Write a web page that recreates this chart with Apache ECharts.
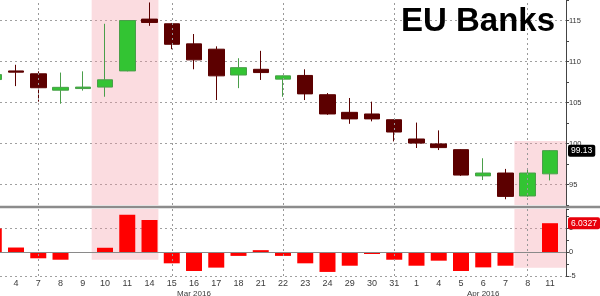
<!DOCTYPE html>
<html>
<head>
<meta charset="utf-8">
<script src="https://cdn.jsdelivr.net/npm/echarts@6/dist/echarts.min.js"></script>
<style>
html,body{margin:0;padding:0;background:#fff;}
#chart{width:600px;height:296px;}
</style>
</head>
<body>
<div id="chart"></div>
<script>
// ---- data ----
const cats = ['3','4','7','8','9','10','11','14','15','16','17','18','21','22','23','24','29','30','31','1','4','5','6','7','8','11'];
const openVals  = [107.8,108.85,108.5,106.5,106.7,106.88,108.85,115.17,114.6,112.15,111.5,108.35,109.05,107.85,108.3,105.95,103.8,103.6,102.9,100.55,99.95,99.25,96.05,96.4,93.6,96.3];
const closeVals = [108.4,108.7,106.8,106.85,106.88,107.77,115.0,114.76,112.1,110.2,108.25,109.25,108.65,108.25,106.05,103.6,103.0,103.0,101.4,100.05,99.5,96.15,96.4,93.55,96.4,99.13];
const lowVals   = [107.5,107.0,105.1,104.85,106.45,105.7,108.8,114.35,111.5,109.05,105.3,106.75,107.75,105.7,105.3,103.5,102.4,102.7,100.25,99.45,99.2,96.05,95.55,93.2,93.5,95.5];
const highVals  = [108.6,109.6,108.8,108.65,108.8,114.6,115.05,117.2,114.7,113.35,111.85,110.4,111.3,108.3,109.05,106.15,105.55,105.1,102.95,102.55,101.6,99.3,98.2,96.9,96.9,99.2];
const changeVals = [4.9,0.95,-1.3,-1.6,0,0.9,7.8,6.7,-2.35,-3.95,-3.25,-0.8,0.4,-0.8,-2.35,-4.15,-2.85,-0.4,-1.6,-2.85,-1.8,-3.95,-3.2,-2.85,0,6.0327];
const monthMarks = [[9,'Mar 2016'],[22,'Apr 2016']];
const vGridIdx = [2,8,13,18,24];
const shadeCats = [[5,7],[24,25]];
const shadeTopFrom = [117.5,100.3];
const shadeLowTo = [-1.6,-3.3];
const titleText = 'EU Banks';

// ---- axis settings ----
const XMIN = 0.28, XMAX = 25.72;
const PMIN = 92.5, PMAX = 117.5;
const CMIN = -5, CMAX = 9;

const candleData = cats.map((c,i)=>[i, openVals[i], closeVals[i], lowVals[i], highVals[i]]);
const barData = cats.map((c,i)=>[i, changeVals[i]]);
const lastClose = closeVals[closeVals.length-1];
const lastChange = changeVals[changeVals.length-1];
const monthMap = {}; monthMarks.forEach(m=>monthMap[m[0]]=m[1]);
const shadeX = (k)=>[shadeCats[k][0]-0.6, k===shadeCats.length-1 ? XMAX : shadeCats[k][1]+0.4];

const gridDot = {color:'#999999', type:[2,3], width:1};
const vLines = vGridIdx.map(i=>({xAxis:i, lineStyle:gridDot, label:{show:false}}));
const FONT = 'Liberation Sans';
const hidden = {color:'rgba(0,0,0,0)', width:1, type:'solid'};

const chart = echarts.init(document.getElementById('chart'), null, {renderer:'canvas'});
chart.setOption({
  animation:false,
  backgroundColor:'#fff',
  title:{text:titleText,left:401,top:5,padding:0,
    textStyle:{fontFamily:FONT,fontWeight:'bold',fontSize:33,color:'#000'}},
  grid:[
    {left:0,right:34,top:0,height:205,outerBoundsMode:'none',containLabel:false},
    {left:0,right:34,top:209,height:67,outerBoundsMode:'none',containLabel:false}
  ],
  xAxis:[
    {gridIndex:0,type:'value',min:XMIN,max:XMAX,show:false,splitLine:{show:false}},
    {gridIndex:1,type:'value',min:XMIN,max:XMAX,
      axisLine:{show:false},axisTick:{show:false},splitLine:{show:false},
      axisLabel:{customValues:cats.map((c,i)=>i).slice(1),margin:3,color:'#3a3a3a',fontFamily:FONT,fontSize:9,
        formatter:(v)=>{const i=Math.round(v); const d='{d|'+cats[i]+'}'; return monthMap[i]? d+'\n{m|'+monthMap[i]+'}' : d;},
        rich:{d:{fontSize:9,lineHeight:10,color:'#3a3a3a',fontFamily:FONT},m:{fontSize:8,lineHeight:10,color:'#3a3a3a',fontFamily:FONT}}}}
  ],
  yAxis:[
    {gridIndex:0,type:'value',position:'right',min:PMIN,max:PMAX,interval:2.5,
      axisLine:{show:true,onZero:false,lineStyle:{color:'#444'}},
      axisTick:{show:true,inside:false,length:3,lineStyle:{color:'#444'}},
      axisLabel:{margin:3,fontSize:7.5,color:'#333',fontFamily:FONT,formatter:(v)=> (Math.abs(v%5)<1e-9 ? String(v) : '')},
      splitLine:{show:true,lineStyle:{color:['transparent','#a0a0a0'],type:[2,3]}}},
    {gridIndex:1,type:'value',position:'right',min:CMIN,max:CMAX,interval:2.5,
      axisLine:{show:true,onZero:false,lineStyle:{color:'#444'}},
      axisTick:{show:true,inside:false,length:3,lineStyle:{color:'#444'}},
      axisLabel:{margin:3,fontSize:7.5,color:'#333',fontFamily:FONT,formatter:(v)=> (Math.abs(v%5)<1e-9 && v<CMAX ? String(v) : '')},
      splitLine:{show:true,lineStyle:{color:['#a0a0a0','transparent','transparent','transparent','#a0a0a0','transparent','transparent'],type:[2,3]}}}
  ],
  series:[
    {type:'candlestick',xAxisIndex:0,yAxisIndex:0,barWidth:16,clip:false,data:candleData,
      itemStyle:{color:'#33c433',color0:'#5c0000',borderColor:'#4a9e4a',borderColor0:'#5c0000',borderWidth:1},
      markArea:{silent:true,itemStyle:{color:'rgba(244,150,160,0.33)'},
        data:shadeCats.map((s,k)=>[{xAxis:shadeX(k)[0],yAxis:shadeTopFrom[k]},{xAxis:shadeX(k)[1],yAxis:PMIN}])},
      markLine:{silent:true,symbol:'none',animation:false,
        data:[...vLines,
          {yAxis:lastClose,lineStyle:hidden,
           label:{show:true,position:'end',distance:2,formatter:()=>lastClose.toFixed(2),
             backgroundColor:'#000',color:'#fff',padding:[2,3,1,3],borderRadius:2,fontSize:8.5,fontFamily:FONT}}]}
    },
    {type:'bar',xAxisIndex:1,yAxisIndex:1,barWidth:16,clip:false,data:barData,
      itemStyle:{color:'#ff0000'},
      markArea:{silent:true,itemStyle:{color:'rgba(244,150,160,0.33)'},
        data:shadeCats.map((s,k)=>[{xAxis:shadeX(k)[0],yAxis:CMAX},{xAxis:shadeX(k)[1],yAxis:shadeLowTo[k]}])},
      markLine:{silent:true,symbol:'none',animation:false,
        data:[...vLines,
          {yAxis:0,lineStyle:{color:'#8a8a8a',type:'solid',width:1},label:{show:false}},
          {yAxis:lastChange,lineStyle:hidden,
           label:{show:true,position:'end',distance:2,formatter:()=>String(lastChange),
             backgroundColor:'#e8000b',color:'#fff',padding:[2,3,1,3],borderRadius:2,fontSize:8.5,fontFamily:FONT}}]}
    }
  ],
  graphic:[
    {type:'rect',left:0,top:205.8,shape:{width:600,height:2.4},style:{fill:'#8c8c8c'},silent:true,z:10}
  ]
});
</script>
</body>
</html>
